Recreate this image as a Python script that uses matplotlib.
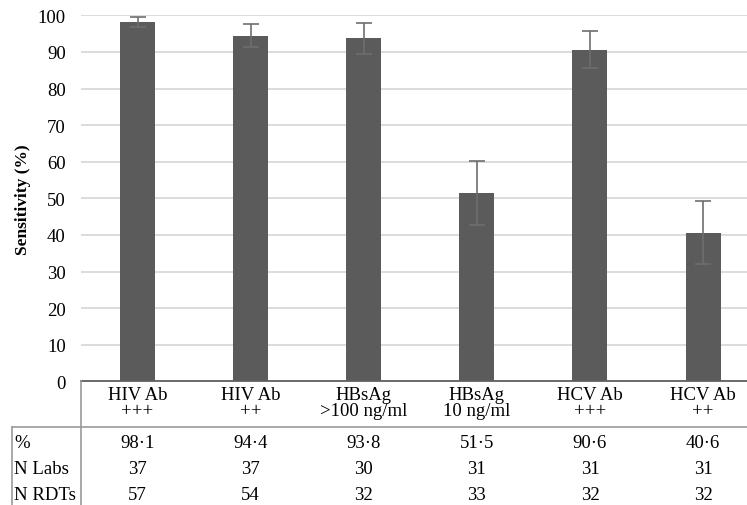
import matplotlib.pyplot as plt
import matplotlib.transforms as mtransforms
from matplotlib.lines import Line2D

# data
cat_top = ["HIV Ab", "HIV Ab", "HBsAg", "HBsAg", "HCV Ab", "HCV Ab"]
cat_bottom = ["+++", "++", ">100 ng/ml", "10 ng/ml", "+++", "++"]
sensitivity = [98.1, 94.4, 93.8, 51.5, 90.6, 40.6]
ci_low = [96.7, 91.3, 89.4, 42.8, 85.5, 32.0]
ci_high = [99.4, 97.6, 98.0, 60.3, 95.7, 49.3]
pct_labels = ["98·1", "94·4", "93·8", "51·5", "90·6", "40·6"]
n_labs = [37, 37, 30, 31, 31, 31]
n_rdts = [57, 54, 32, 33, 32, 32]
row_names = ["%", "N Labs", "N RDTs"]

plt.rcParams["font.family"] = ["Liberation Serif", "DejaVu Serif"]

W, H = 747, 506
fig = plt.figure(figsize=(W / 100, H / 100), dpi=100)
# axes runs a little past the right edge, as in the original
ax = fig.add_axes([81 / W, (H - 382.3) / H, 678.6 / W, 366 / H])

x = list(range(len(sensitivity)))
err_lo = [s - l for s, l in zip(sensitivity, ci_low)]
err_hi = [h - s for s, h in zip(sensitivity, ci_high)]

ax.bar(x, sensitivity, width=0.31, color="#5b5b5b", zorder=2)
ax.errorbar(x, sensitivity, yerr=[err_lo, err_hi], fmt="none",
            ecolor="#6e6e6e", elinewidth=1.2, capsize=6, capthick=1.2, zorder=3)

ax.set_xlim(-0.5, len(x) - 0.5)
ax.set_ylim(0, 100)
ax.set_yticks(range(0, 101, 10))
ax.yaxis.grid(True, color="#d9d9d9", linewidth=1.3, zorder=0)
ax.set_axisbelow(True)
ax.tick_params(axis="y", length=0, pad=11, labelsize=13.5)
ax.set_xticks([])
for s in ["top", "right", "left"]:
    ax.spines[s].set_visible(False)
ax.spines["bottom"].set_color("#606060")
ax.spines["bottom"].set_linewidth(1.3)
ax.set_ylabel("Sensitivity (%)", fontsize=12.5, fontweight="bold")
ax.yaxis.set_label_coords(-0.073, 0.5)

# table below the axis
tr = mtransforms.blended_transform_factory(ax.transData, fig.transFigure)
def fy(py):
    return (H - py) / H

fs = 13.5
for i in x:
    ax.text(i, fy(396), cat_top[i], transform=tr, ha="center", va="center", fontsize=fs)
    ax.text(i, fy(412), cat_bottom[i], transform=tr, ha="center", va="center", fontsize=fs)
    ax.text(i, fy(444), pct_labels[i], transform=tr, ha="center", va="center", fontsize=fs)
    ax.text(i, fy(470), str(n_labs[i]), transform=tr, ha="center", va="center", fontsize=fs)
    ax.text(i, fy(496), str(n_rdts[i]), transform=tr, ha="center", va="center", fontsize=fs)

for j, name in enumerate(row_names):
    fig.text(14 / W, fy([444, 470, 496][j]), name, ha="left", va="center", fontsize=fs)

line_col = "#9a9a9a"
fig.add_artist(Line2D([81 / W, 81 / W], [fy(382.3), 0], color=line_col, linewidth=1.2))
fig.add_artist(Line2D([12 / W, 12 / W], [fy(428.3), 0], color=line_col, linewidth=1.2))
fig.add_artist(Line2D([12 / W, 1], [fy(428.3), fy(428.3)], color=line_col, linewidth=1.2))

fig.savefig("out.png", dpi=100)
